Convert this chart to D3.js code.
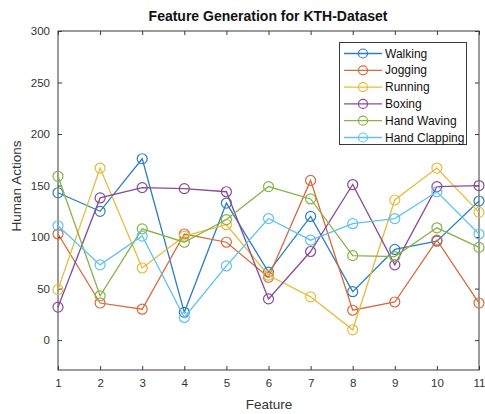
<!DOCTYPE html>
<html><head><meta charset="utf-8">
<script src="https://cdn.jsdelivr.net/npm/d3@7/dist/d3.min.js"></script>
<style>body{margin:0;background:#fff;font-family:"Liberation Sans",Arial,sans-serif;}</style>
</head><body><svg id="c" width="485" height="414"></svg>
<script>
const features = [1,2,3,4,5,6,7,8,9,10,11];
const seriesNames = ["Walking","Jogging","Running","Boxing","Hand Waving","Hand Clapping"];
const walking      = [143,125,176,27,133,66,120,47,88,96,135];
const jogging      = [103,36,30,103,95,61,155,29,37,97,36];
const running      = [49,167,70,101,112,63,42,10,136,167,124];
const boxing       = [32,138,148,147,144,40,86,151,73,149,150];
const handWaving   = [159,43,108,95,117,149,137,82,81,109,90];
const handClapping = [111,73,101,22,72,118,97,113,118,144,103];
const yTicks = [0,50,100,150,200,250,300];
const colors = ["#2f7fbf","#d9693a","#e8bb3c","#8a4a98","#86b449","#62c3ec"];
const allSeries = [walking,jogging,running,boxing,handWaving,handClapping];

const svg = d3.select("#c");
const L=58, R=479, T=31, B=370;
const x = d3.scaleLinear().domain([1,11]).range([L,R]);
const y = d3.scaleLinear().domain([-29,300]).range([B,T]);
const axisCol = "#3a3a3a", textCol="#333";

svg.append("rect").attr("x",L).attr("y",T).attr("width",R-L).attr("height",B-T)
  .attr("fill","none").attr("stroke",axisCol).attr("stroke-width",1);

const xb = svg.append("g").attr("transform",`translate(0,${B})`)
  .call(d3.axisBottom(x).tickValues(features).tickSize(-4).tickPadding(9).tickFormat(d3.format("d")));
const xt = svg.append("g").attr("transform",`translate(0,${T})`)
  .call(d3.axisTop(x).tickValues(features).tickSize(-4).tickFormat(""));
const yl = svg.append("g").attr("transform",`translate(${L},0)`)
  .call(d3.axisLeft(y).tickValues(yTicks).tickSize(-4).tickPadding(8));
const yr = svg.append("g").attr("transform",`translate(${R},0)`)
  .call(d3.axisRight(y).tickValues(yTicks).tickSize(-4).tickFormat(""));
[xb,xt,yl,yr].forEach(g=>{
  g.select(".domain").remove();
  g.selectAll(".tick line").attr("stroke",axisCol);
  g.selectAll(".tick text").attr("fill",textCol).style("font-size","11.5px").style("font-family","Liberation Sans, Arial, sans-serif");
});

const line = d3.line().x((d,i)=>x(features[i])).y(d=>y(d));
allSeries.forEach((s,k)=>{
  const g = svg.append("g");
  g.append("path").attr("d",line(s)).attr("fill","none").attr("stroke",colors[k]).attr("stroke-width",1.3);
  g.selectAll("circle").data(s).join("circle")
    .attr("cx",(d,i)=>x(features[i])).attr("cy",d=>y(d)).attr("r",5)
    .attr("fill","none").attr("stroke",colors[k]).attr("stroke-width",1.2);
});

svg.append("text").attr("x",268).attr("y",21).attr("text-anchor","middle")
  .style("font-weight","bold").style("font-size","14px").attr("fill","#111")
  .text("Feature Generation for KTH-Dataset");
svg.append("text").attr("x",269).attr("y",409).attr("text-anchor","middle")
  .style("font-size","13.5px").attr("fill",textCol).text("Feature");
svg.append("text").attr("transform","translate(21,186) rotate(-90)").attr("text-anchor","middle")
  .style("font-size","13.5px").attr("fill",textCol).text("Human Actions");

const lg = svg.append("g");
lg.append("rect").attr("x",339.5).attr("y",42.5).attr("width",127).attr("height",102)
  .attr("fill","#fff").attr("stroke",axisCol).attr("stroke-width",1);
seriesNames.forEach((n,k)=>{
  const yy = 53.5 + k*16.8;
  lg.append("line").attr("x1",344).attr("x2",382).attr("y1",yy).attr("y2",yy).attr("stroke",colors[k]).attr("stroke-width",1.3);
  lg.append("circle").attr("cx",363).attr("cy",yy).attr("r",4.5).attr("fill","none").attr("stroke",colors[k]).attr("stroke-width",1.2);
  lg.append("text").attr("x",385).attr("y",yy+4).style("font-size","12px").attr("fill","#111").text(n);
});
</script></body></html>
